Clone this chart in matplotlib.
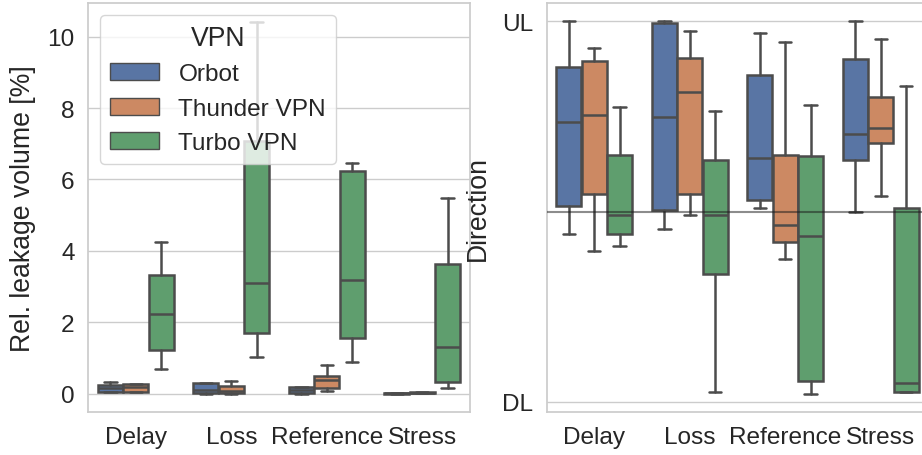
import matplotlib
matplotlib.use("Agg")
import matplotlib.pyplot as plt
from matplotlib.patches import Patch
import seaborn as sns

sns.set_theme(style="whitegrid", font_scale=1.6)
plt.rcParams["font.family"] = ["Liberation Sans", "DejaVu Sans"]

scenarios = ["Delay", "Loss", "Reference", "Stress"]
vpns = ["Orbot", "Thunder VPN", "Turbo VPN"]

# left panel: relative leakage volume [%], per vpn -> per scenario
# (whislo, q1, med, q3, whishi)
leak_orbot = [(0.05, 0.06, 0.16, 0.25, 0.34),
              (0.00, 0.02, 0.10, 0.30, 0.30),
              (0.00, 0.01, 0.10, 0.20, 0.20),
              (0.00, 0.00, 0.01, 0.02, 0.02)]
leak_thunder = [(0.05, 0.06, 0.20, 0.28, 0.28),
                (0.00, 0.02, 0.09, 0.22, 0.36),
                (0.07, 0.17, 0.38, 0.49, 0.81),
                (0.01, 0.02, 0.03, 0.05, 0.05)]
leak_turbo = [(0.70, 1.23, 2.24, 3.33, 4.25),
              (1.02, 1.71, 3.10, 7.09, 10.42),
              (0.89, 1.57, 3.19, 6.23, 6.47),
              (0.15, 0.33, 1.32, 3.62, 5.49)]

# right panel: direction (1 = UL, -1 = DL)
dir_orbot = [(-0.12, 0.03, 0.47, 0.76, 1.00),
             (-0.09, 0.01, 0.50, 0.99, 1.00),
             (0.02, 0.06, 0.28, 0.72, 0.94),
             (0.00, 0.27, 0.41, 0.80, 1.00)]
dir_thunder = [(-0.21, 0.09, 0.51, 0.79, 0.86),
               (-0.02, 0.09, 0.63, 0.81, 0.95),
               (-0.25, -0.16, -0.07, 0.30, 0.89),
               (0.08, 0.36, 0.44, 0.60, 0.91)]
dir_turbo = [(-0.18, -0.12, -0.02, 0.30, 0.55),
             (-0.95, -0.33, -0.02, 0.27, 0.53),
             (-0.96, -0.89, -0.13, 0.29, 0.56),
             (-0.95, -0.95, -0.90, 0.02, 0.66)]

base = sns.color_palette("deep", 3)
colors = [sns.desaturate(c, 0.75) for c in base]
gray = "#4c4c4c"
width = 0.8 / 3
lw = 1.8


def draw_boxes(ax, series):
    for h, data in enumerate(series):
        stats = []
        for lo, q1, med, q3, hi in data:
            stats.append(dict(whislo=lo, q1=q1, med=med, q3=q3, whishi=hi, fliers=[]))
        pos = [i + (h - 1) * width for i in range(len(scenarios))]
        ax.bxp(stats, positions=pos, widths=width * 0.98, patch_artist=True,
               showfliers=False, manage_ticks=False,
               boxprops=dict(facecolor=colors[h], edgecolor=gray, linewidth=lw),
               medianprops=dict(color=gray, linewidth=lw),
               whiskerprops=dict(color=gray, linewidth=lw),
               capprops=dict(color=gray, linewidth=lw))
    ax.set_xticks(range(len(scenarios)))
    ax.set_xticklabels(scenarios)
    ax.set_xlim(-0.5, 3.5)
    ax.xaxis.grid(False)


fig = plt.figure(figsize=(9.22, 4.56), dpi=100)
ax1 = fig.add_axes([88 / 922, 0.0936, 382 / 922, 0.8976])
ax2 = fig.add_axes([546.5 / 922, 0.0936, 382 / 922, 0.8976])

draw_boxes(ax1, [leak_orbot, leak_thunder, leak_turbo])
ax1.set_ylim(-0.52, 10.94)
ax1.set_yticks([0, 2, 4, 6, 8, 10])
ax1.set_ylabel("Rel. leakage volume [%]", labelpad=8.5)
handles = [Patch(facecolor=colors[i], edgecolor=gray, linewidth=1, label=v)
           for i, v in enumerate(vpns)]
ax1.legend(handles=handles, title="VPN", loc="upper left")

draw_boxes(ax2, [dir_orbot, dir_thunder, dir_turbo])
ax2.axhline(0, color="k", alpha=0.5, linewidth=1.5, zorder=3)
ax2.set_ylim(-1.056, 1.097)
ax2.set_yticks([1, -1])
ax2.set_yticklabels(["UL", "DL"])
ax2.set_ylabel("Direction", labelpad=8.5)

fig.savefig("out.png", dpi=100)
